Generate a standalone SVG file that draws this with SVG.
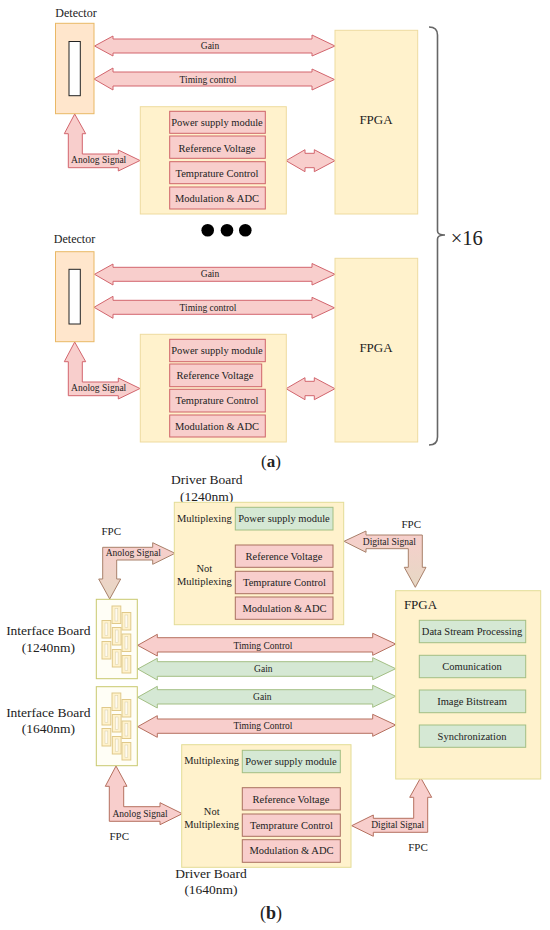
<svg xmlns="http://www.w3.org/2000/svg" width="550" height="930" viewBox="0 0 550 930">
<style>
text{font-family:"Liberation Serif","Times New Roman",serif;fill:#222;text-anchor:middle}
.s95{font-size:9.5px}.s105{font-size:10.5px}.s11{font-size:11px}.s12{font-size:12px}.s13{font-size:13px}.s135{font-size:13.5px}
.det{fill:#ffe6cc;stroke:#e9b865;stroke-width:1}
.mod{fill:#fff2cc;stroke:#eedb9f;stroke-width:1}
.drv{fill:#fff2cc;stroke:#e3dc96;stroke-width:1}
.ifb{fill:#fffef6;stroke:#c9c96e;stroke-width:1}
.sens{fill:#fff;stroke:#222;stroke-width:1}
.r1{fill:#f8cecc;stroke:#cf6468;stroke-width:1}
.r2{fill:#f8cecc;stroke:#a9705f;stroke-width:1}
.g2{fill:#d5e8d4;stroke:#a3bf84;stroke-width:1}
.ar1{fill:#f8cecc;stroke:#d2656d;stroke-width:1;stroke-linejoin:miter}
.ar2{fill:#f8cecc;stroke:#b5705f;stroke-width:1}
.ag{fill:#d5e8d4;stroke:#a3bf84;stroke-width:1}
.grd{stroke:#a8806a;stroke-width:1}
.chip{fill:#fff2cc;stroke:#e0c98a;stroke-width:1}
.pad{fill:#fffaf0;stroke:#d8cfa8;stroke-width:.5}
</style>
<defs>
<linearGradient id="gd1" gradientUnits="userSpaceOnUse" x1="0" y1="545" x2="0" y2="600"><stop offset="0" stop-color="#f8cecc"/><stop offset="1" stop-color="#e6d8c4"/></linearGradient>
<linearGradient id="gd2" gradientUnits="userSpaceOnUse" x1="0" y1="530" x2="0" y2="588"><stop offset="0" stop-color="#f8cecc"/><stop offset="1" stop-color="#e6d8c4"/></linearGradient>
<g id="chip"><rect class="chip" x="0" y="0" width="8.8" height="17.5"/><rect class="pad" x="3" y="2.5" width="2.8" height="12.5"/></g>
<g id="chips">
<use href="#chip" x="112" y="606"/><use href="#chip" x="122" y="612.5"/><use href="#chip" x="102" y="620.5"/><use href="#chip" x="112.3" y="627.5"/><use href="#chip" x="122" y="634"/><use href="#chip" x="102" y="641.5"/><use href="#chip" x="112.3" y="649.5"/><use href="#chip" x="122" y="655.5"/>
</g>
</defs>

<g id="connectors">
<path class="ar1" d="M94.5 46L113 36V39H312V35L335 46L312 56V53H113V56Z"/>
<path class="ar1" d="M94 79L113 68V72H312V69L334.5 79.5L312 90V86H113V90Z"/>
<path class="ar1" d="M74.7 114L85.7 133.7H82.3V154H118.3V150L140 160.5L118.3 171V167.7H68.3V133.7H64.3Z"/>
<path class="ar1" d="M286 160.7L305 149.7V153.3H314.3V149.7L335 160.7L314.3 171.7V167.7H305V171.7Z"/>
<path class="ar1" d="M94.5 274.3L113 264V267.3H312V263.5L335 274.3L312 285V281.3H113V285Z"/>
<path class="ar1" d="M94 307.3L113 296.3V300.3H312V297.3L334.5 307.8L312 318.3V314.3H113V318.3Z"/>
<path class="ar1" d="M74.7 342L85.7 361.7H82.3V382H118.3V378L140 388.5L118.3 399V395.7H68.3V361.7H64.3Z"/>
<path class="ar1" d="M286 388.7L305 377.7V381.3H314.3V377.7L335 388.7L314.3 399.7V395.7H305V399.7Z"/>
<path class="ar2" d="M137.7 645.3L157.3 634.3V637.7H372.7V633.3L395.7 644L372.7 655.3V652H157.3V656Z"/>
<path class="ag" d="M137.7 669L157.3 658.3V661.7H372.7V657.7L395.7 668.7L372.7 679.7V676.3H157.3V680Z"/>
<path class="ag" d="M137.7 697.3L157.3 686.3V689.7H372.7V685.3L395.7 696.3L372.7 707.3V704H157.3V708Z"/>
<path class="ar2" d="M137.7 726.7L157.3 715.7V719H372.7V714.3L395.7 725L372.7 736.3V733.3H157.3V737.3Z"/>
<path class="grd" fill="url(#gd1)" d="M175 553.3L152.7 542.7V547.3H102.7V579H98.7L109.7 599L120.7 579H116.7V560H152.7V564.3Z"/>
<path class="grd" fill="url(#gd2)" d="M344 541.3L366 531V535H422.3V567.3H426L415.3 587.3L404.3 567.3H408.3V548.7H366V552.3Z"/>
<path class="ar2" d="M116 766L127 786.3H123.7V806.7H160V802.7L182.3 813.7L160 824.7V821.3H109.3V786.3H105.3Z"/>
<path class="ar2" d="M351.7 825.7L373.3 815V818.3H413.7V797.3H409.7L420.7 777.7L431.7 797.3H427.7V832.3H373.3V836.3Z"/>
</g>

<g id="detector-a1">
<text class="s12" x="76" y="17">Detector</text>
<rect class="det" x="55.5" y="23.3" width="38.5" height="90.4"/>
<rect class="sens" x="69" y="41.5" width="11.3" height="54.2"/>
</g>
<g id="detector-a2">
<text class="s12" x="74.5" y="243">Detector</text>
<rect class="det" x="55.5" y="251.7" width="38.5" height="90"/>
<rect class="sens" x="69" y="269.3" width="11.3" height="54.7"/>
</g>
<g id="fpga-a1">
<rect class="mod" x="335" y="30.3" width="82.7" height="183.7"/>
<text class="s13" x="376" y="124">FPGA</text>
</g>
<g id="fpga-a2">
<rect class="mod" x="335" y="258.3" width="82.7" height="183.7"/>
<text class="s13" x="376" y="352">FPGA</text>
</g>
<g id="board-a1">
<rect class="mod" x="140.3" y="106.7" width="146" height="107.3"/>
<rect class="r1" x="169.7" y="111.3" width="95.6" height="22"/>
<rect class="r1" x="169.7" y="136" width="95.6" height="22.3"/>
<rect class="r1" x="169.7" y="161.7" width="95.6" height="22"/>
<rect class="r1" x="169.7" y="187" width="95.6" height="22"/>
<text class="s105" x="217" y="126">Power supply module</text>
<text class="s105" x="217" y="151.7">Reference Voltage</text>
<text class="s105" x="217" y="176.7">Temprature Control</text>
<text class="s105" x="217" y="201.7">Modulation &amp; ADC</text>
</g>
<g id="board-a2">
<rect class="mod" x="140.3" y="334.3" width="146" height="107.7"/>
<rect class="r1" x="169.7" y="339.3" width="95.6" height="22.4"/>
<rect class="r1" x="169.7" y="364" width="92" height="22.7"/>
<rect class="r1" x="169.7" y="389.3" width="95.6" height="22.7"/>
<rect class="r1" x="169.7" y="415" width="95.6" height="22"/>
<text class="s105" x="217" y="354">Power supply module</text>
<text class="s105" x="215" y="379.3">Reference Voltage</text>
<text class="s105" x="217" y="404.3">Temprature Control</text>
<text class="s105" x="217" y="430">Modulation &amp; ADC</text>
</g>
<g id="labels-a">
<text class="s95" x="210" y="49.3">Gain</text>
<text class="s95" x="208" y="82.7">Timing control</text>
<text class="s95" x="98.7" y="163.3">Anolog Signal</text>
<text class="s95" x="210" y="277.3">Gain</text>
<text class="s95" x="208" y="310.7">Timing control</text>
<text class="s95" x="98.7" y="391">Anolog Signal</text>
</g>
<g id="dots" fill="#000"><circle cx="207.7" cy="230.3" r="6.3"/><circle cx="227" cy="230.3" r="6.3"/><circle cx="245.3" cy="230.3" r="6.3"/></g>
<g id="bracket">
<path d="M429 27Q437.5 27 437.5 35V231Q437.5 235 445 235Q437.5 235 437.5 239V437Q437.5 445 429 445" fill="none" stroke="#666" stroke-width="1.6"/>
<text x="466.7" y="245" style="font-size:20.5px">×16</text>
</g>
<text x="271" y="466.7" style="font-size:17px">(<tspan font-weight="bold">a</tspan>)</text>

<g id="driver-1240">
<text class="s135" x="206.7" y="483.7">Driver Board</text>
<text class="s135" x="206.7" y="500.7">(1240nm)</text>
<rect class="drv" x="174.3" y="502.3" width="169.4" height="122.4"/>
<rect class="g2" x="235.3" y="507.3" width="97.7" height="22.7"/>
<rect class="r2" x="235.3" y="545" width="97.7" height="22.3"/>
<rect class="r2" x="235.3" y="571.3" width="97.7" height="22.4"/>
<rect class="r2" x="235.3" y="597" width="97.7" height="22.3"/>
<text class="s105" x="204.3" y="521.7">Multiplexing</text>
<text class="s105" x="204.3" y="572.3">Not</text>
<text class="s105" x="204.3" y="585">Multiplexing</text>
<text class="s105" x="284" y="522.3">Power supply module</text>
<text class="s105" x="284" y="560">Reference Voltage</text>
<text class="s105" x="284.5" y="586">Temprature Control</text>
<text class="s105" x="284.5" y="611.7">Modulation &amp; ADC</text>
</g>
<g id="driver-1640">
<rect class="drv" x="181.7" y="744.7" width="169.3" height="122.6"/>
<rect class="g2" x="242.3" y="750.3" width="98" height="22.4"/>
<rect class="r2" x="242.3" y="787.7" width="98" height="22.3"/>
<rect class="r2" x="242.3" y="814" width="98" height="22.3"/>
<rect class="r2" x="242.3" y="839.7" width="98" height="22.6"/>
<text class="s105" x="211.7" y="764.3">Multiplexing</text>
<text class="s105" x="211.7" y="815">Not</text>
<text class="s105" x="211.7" y="828">Multiplexing</text>
<text class="s105" x="291" y="765">Power supply module</text>
<text class="s105" x="291" y="802.7">Reference Voltage</text>
<text class="s105" x="291.5" y="828.7">Temprature Control</text>
<text class="s105" x="291.5" y="854.3">Modulation &amp; ADC</text>
<text class="s135" x="211" y="878">Driver Board</text>
<text class="s135" x="211" y="894.3">(1640nm)</text>
</g>
<g id="interface-1240">
<rect class="ifb" x="96.3" y="599.3" width="41" height="79.4"/>
<use href="#chips"/>
<text class="s135" x="48.3" y="635">Interface Board</text>
<text class="s135" x="48.3" y="651.7">(1240nm)</text>
</g>
<g id="interface-1640">
<rect class="ifb" x="96.3" y="686.7" width="41" height="79"/>
<use href="#chips" y="87"/>
<text class="s135" x="48.3" y="717.3">Interface Board</text>
<text class="s135" x="48.3" y="733.3">(1640nm)</text>
</g>
<g id="fpga-b">
<rect class="drv" x="395.7" y="590.7" width="145" height="188.3"/>
<text class="s13" x="420.5" y="609">FPGA</text>
<rect class="g2" x="419.3" y="620.3" width="106.4" height="22.4"/>
<rect class="g2" x="419.3" y="655.3" width="106.4" height="22.4"/>
<rect class="g2" x="419.3" y="690" width="106.4" height="22.7"/>
<rect class="g2" x="419.3" y="725" width="106.4" height="22.3"/>
<text class="s105" x="472" y="635">Data Stream Processing</text>
<text class="s105" x="472" y="670">Comunication</text>
<text class="s105" x="472" y="705">Image Bitstream</text>
<text class="s105" x="472" y="740">Synchronization</text>
</g>
<g id="labels-b">
<text class="s95" x="263" y="649">Timing Control</text>
<text class="s95" x="263.3" y="672">Gain</text>
<text class="s95" x="262.3" y="700">Gain</text>
<text class="s95" x="263" y="729.3">Timing Control</text>
<text class="s95" x="133.3" y="556.3">Anolog Signal</text>
<text class="s95" x="140" y="816.7">Anolog Signal</text>
<text class="s95" x="389.3" y="545">Digital Signal</text>
<text class="s95" x="397.7" y="828">Digital Signal</text>
<text class="s11" x="111.3" y="535">FPC</text>
<text class="s11" x="411.3" y="527.7">FPC</text>
<text class="s11" x="119.3" y="840">FPC</text>
<text class="s11" x="418" y="851">FPC</text>
</g>
<text x="271" y="919" style="font-size:18px">(<tspan font-weight="bold">b</tspan>)</text>
</svg>
